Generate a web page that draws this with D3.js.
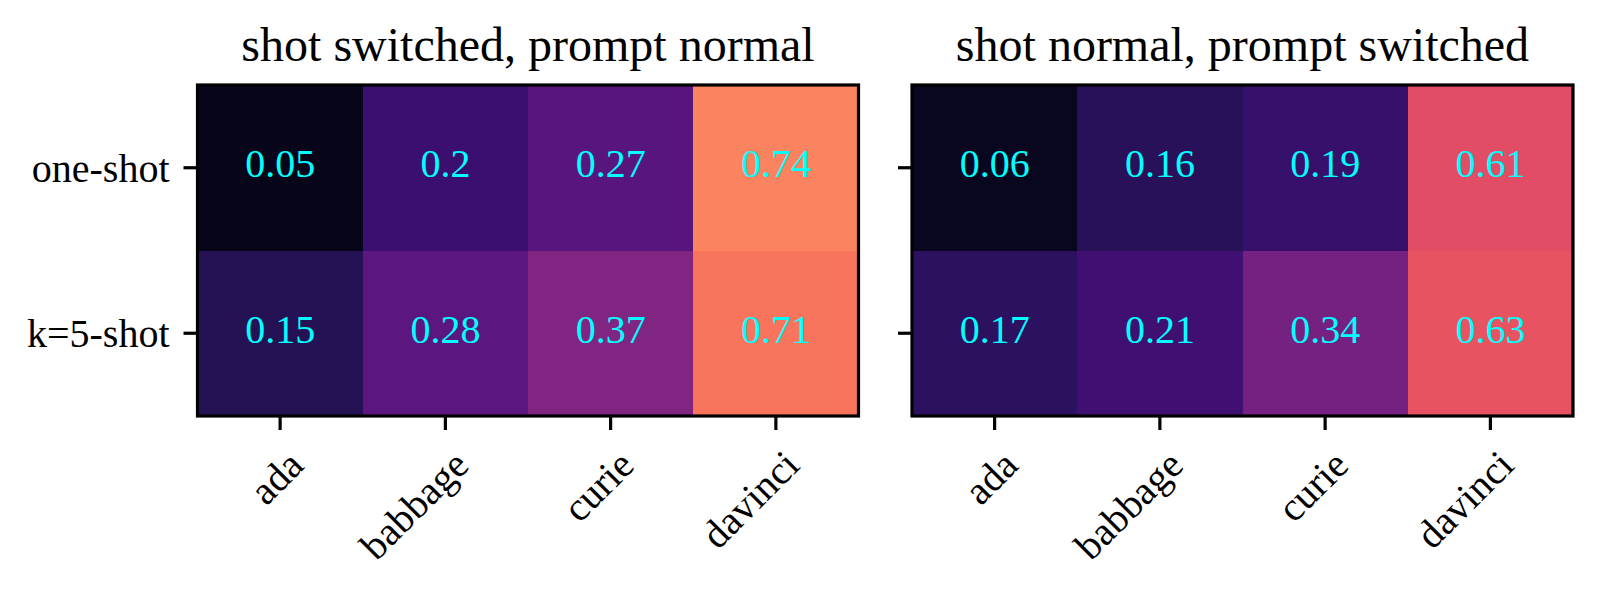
<!DOCTYPE html>
<html>
<head>
<meta charset="utf-8">
<script src="https://cdn.jsdelivr.net/npm/d3@7"></script>
<style>
  html, body { margin: 0; padding: 0; background: #ffffff; }
  svg { display: block; }
</style>
</head>
<body>
<svg id="chart" width="1600" height="591"></svg>
<script>
// ---- data ----
const models = ["ada", "babbage", "curie", "davinci"];
const shots = ["one-shot", "k=5-shot"];
const panelTitles = ["shot switched, prompt normal", "shot normal, prompt switched"];
const leftValues = [
  [0.05, 0.2, 0.27, 0.74],
  [0.15, 0.28, 0.37, 0.71]
];
const rightValues = [
  [0.06, 0.16, 0.19, 0.61],
  [0.17, 0.21, 0.34, 0.63]
];

// ---- layout ----
const W = 1600, H = 591;
const fontFamily = "'Liberation Serif', 'Times New Roman', Times, serif";
const panels = [
  { x0: 197.5, values: leftValues, title: panelTitles[0], showYLabels: true },
  { x0: 912, values: rightValues, title: panelTitles[1], showYLabels: false }
];
const axW = 661, axH = 331, axTop = 85;
const tickLen = 14, tickPad = 12, lineW = 3.2;

const color = d3.scaleSequential(d3.interpolateMagma).domain([0, 1]);
const svg = d3.select("#chart");

panels.forEach(p => {
  const g = svg.append("g").attr("transform", `translate(${p.x0},${axTop})`);
  const x = d3.scaleBand().domain(models).range([0, axW]).padding(0);
  const y = d3.scaleBand().domain(shots).range([0, axH]).padding(0);

  const cells = [];
  shots.forEach((s, i) => models.forEach((m, j) => cells.push({ s, m, v: p.values[i][j] })));

  g.selectAll("rect.cell").data(cells).join("rect")
    .attr("class", "cell")
    .attr("x", d => x(d.m))
    .attr("y", d => y(d.s))
    .attr("width", x.bandwidth() + 0.5)
    .attr("height", y.bandwidth() + 0.5)
    .attr("fill", d => color(d.v))
    .attr("shape-rendering", "crispEdges");

  g.selectAll("text.val").data(cells).join("text")
    .attr("class", "val")
    .attr("x", d => x(d.m) + x.bandwidth() / 2)
    .attr("y", d => y(d.s) + y.bandwidth() / 2)
    .attr("dy", "0.24em")
    .attr("text-anchor", "middle")
    .attr("font-family", fontFamily)
    .attr("font-size", 40)
    .attr("fill", "#00ffff")
    .text(d => String(d.v));

  // x axis
  const xAxis = g.append("g")
    .attr("transform", `translate(0,${axH})`)
    .call(d3.axisBottom(x).tickSize(tickLen).tickPadding(tickPad));
  xAxis.select(".domain").remove();
  xAxis.selectAll(".tick line").attr("stroke", "#000").attr("stroke-width", lineW);
  xAxis.selectAll(".tick text")
    .attr("font-family", fontFamily)
    .attr("font-size", 40)
    .attr("fill", "#000")
    .attr("text-anchor", "end")
    .attr("x", 0)
    .attr("y", 0)
    .attr("dy", "0.9em")
    .attr("transform", `translate(0,${tickLen + tickPad}) rotate(-45)`);

  // y axis
  const yAxis = g.append("g")
    .call(d3.axisLeft(y).tickSize(tickLen).tickPadding(14));
  yAxis.select(".domain").remove();
  yAxis.selectAll(".tick line").attr("stroke", "#000").attr("stroke-width", lineW);
  yAxis.selectAll(".tick text")
    .attr("font-family", fontFamily)
    .attr("font-size", 40)
    .attr("fill", "#000")
    .attr("dy", "0.35em");
  if (!p.showYLabels) yAxis.selectAll(".tick text").remove();

  // frame
  g.append("rect")
    .attr("x", 0).attr("y", 0)
    .attr("width", axW).attr("height", axH)
    .attr("fill", "none")
    .attr("stroke", "#000")
    .attr("stroke-width", lineW);

  // title
  g.append("text")
    .attr("x", axW / 2)
    .attr("y", -24)
    .attr("text-anchor", "middle")
    .attr("font-family", fontFamily)
    .attr("font-size", 48)
    .attr("fill", "#000")
    .text(p.title);
});
</script>
</body>
</html>
